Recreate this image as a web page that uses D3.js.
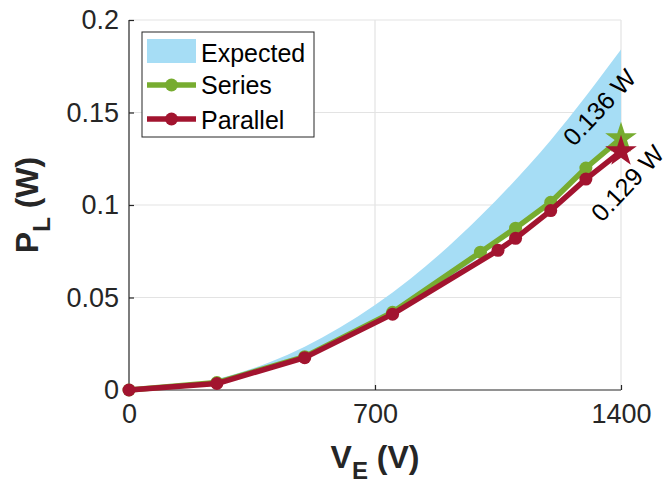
<!DOCTYPE html>
<html>
<head>
<meta charset="utf-8">
<script src="https://cdn.jsdelivr.net/npm/d3@7"></script>
<style>
  body { margin: 0; background: #fff; }
  svg text { font-family: "Liberation Sans", Arial, Helvetica, sans-serif; }
</style>
</head>
<body>
<div id="chart"></div>
<script>
// values
const expectedV = [0, 200, 400, 600, 800, 1000, 1200, 1400];
const expectedLow = [0, 0.0028, 0.0115, 0.026, 0.046, 0.0725, 0.1015, 0.138];
const expectedHigh = [0, 0.0038, 0.015, 0.0338, 0.060, 0.094, 0.135, 0.184];

const seriesV = [0, 250, 500, 750, 1000, 1100, 1200, 1300, 1400];
const seriesP = [0, 0.004, 0.018, 0.042, 0.0745, 0.0875, 0.1015, 0.12, 0.136];

const parallelV = [0, 250, 500, 750, 1050, 1100, 1200, 1300, 1400];
const parallelP = [0, 0.0035, 0.0175, 0.041, 0.0755, 0.082, 0.097, 0.114, 0.129];

const xTicks = [0, 700, 1400];
const yTicks = [0, 0.05, 0.1, 0.15, 0.2];
const yTickLabels = ["0", "0.05", "0.1", "0.15", "0.2"];

const green = "#77ac30", red = "#a2142f", blue = "#a6ddf5";

let svg = d3.select("#chart").append("svg")
    .attr("width", 671)
    .attr("height", 486);

let margin = {top: 20, right: 50, bottom: 96, left: 129};
let width = 671 - margin.left - margin.right;
let height = 486 - margin.top - margin.bottom;

let x = d3.scaleLinear().domain([0, 1400]).range([0, width]);
let y = d3.scaleLinear().domain([0, 0.2]).range([height, 0]);

let g = svg.append("g")
    .attr("transform", "translate(" + margin.left + "," + margin.top + ")");

// grid
g.append("g").selectAll("line").data(xTicks.slice(1)).enter().append("line")
    .attr("x1", d => x(d)).attr("x2", d => x(d))
    .attr("y1", 0).attr("y2", height)
    .attr("stroke", "#e3e3e3").attr("stroke-width", 1.2);
g.append("g").selectAll("line").data(yTicks.slice(1)).enter().append("line")
    .attr("x1", 0).attr("x2", width)
    .attr("y1", d => y(d)).attr("y2", d => y(d))
    .attr("stroke", "#e3e3e3").attr("stroke-width", 1.2);

// expected band
let band = expectedV.map((v, i) => ({v: v, lo: expectedLow[i], hi: expectedHigh[i]}));
g.append("path")
    .datum(band)
    .attr("fill", blue)
    .attr("d", d3.area().curve(d3.curveMonotoneX)
        .x(d => x(d.v)).y0(d => y(d.lo)).y1(d => y(d.hi)));

// axes
let xAxis = g.append("g")
    .attr("transform", "translate(0," + height + ")")
    .call(d3.axisBottom(x).tickValues(xTicks).tickSize(-5).tickPadding(14)
        .tickFormat(d3.format("d")));
let yAxis = g.append("g")
    .call(d3.axisLeft(y).tickValues(yTicks).tickSize(-5).tickPadding(10)
        .tickFormat((d, i) => yTickLabels[i]));
[xAxis, yAxis].forEach(a => {
    a.select(".domain").attr("stroke", "#262626").attr("stroke-width", 1.2);
    a.selectAll(".tick line").attr("stroke", "#262626").attr("stroke-width", 1.2);
    a.selectAll(".tick text").attr("fill", "#262626").style("font-size", "27px");
});
xAxis.select(".domain").attr("d", "M0,0H" + width);
yAxis.select(".domain").attr("d", "M0," + height + "V0");

// lines with markers
function drawSeries(vs, ps, color) {
    let pts = vs.map((v, i) => ({v: v, p: ps[i]}));
    g.append("path")
        .datum(pts)
        .attr("fill", "none")
        .attr("stroke", color)
        .attr("stroke-width", 5.5)
        .attr("stroke-linejoin", "round")
        .attr("d", d3.line().x(d => x(d.v)).y(d => y(d.p)));
    g.append("g").selectAll("circle")
        .data(pts.slice(0, -1)).enter().append("circle")
        .attr("cx", d => x(d.v)).attr("cy", d => y(d.p))
        .attr("r", 6.5).attr("fill", color);
    return pts[pts.length - 1];
}
let sEnd = drawSeries(seriesV, seriesP, green);
let pEnd = drawSeries(parallelV, parallelP, red);

let star = d3.symbol().type(d3.symbolStar).size(310);
g.append("path").attr("d", star)
    .attr("transform", "translate(" + x(sEnd.v) + "," + y(sEnd.p) + ")")
    .attr("fill", green);
g.append("path").attr("d", star)
    .attr("transform", "translate(" + x(pEnd.v) + "," + y(pEnd.p) + ")")
    .attr("fill", red);

// annotations
g.append("text")
    .attr("transform", "translate(" + (x(sEnd.v) - 47) + "," + (y(sEnd.p) + 9) + ") rotate(-47)")
    .style("font-size", "25px").attr("fill", "#000")
    .text(sEnd.p.toFixed(3) + " W");
g.append("text")
    .attr("transform", "translate(" + (x(pEnd.v) - 19) + "," + (y(pEnd.p) + 72) + ") rotate(-47)")
    .style("font-size", "25px").attr("fill", "#000")
    .text(pEnd.p.toFixed(3) + " W");

// axis labels
let xl = svg.append("text")
    .attr("x", margin.left + width / 2)
    .attr("y", 468)
    .attr("text-anchor", "middle")
    .attr("fill", "#262626")
    .style("font-size", "32px").style("font-weight", "bold");
xl.append("tspan").text("V");
xl.append("tspan").attr("dy", 11).style("font-size", "24px").text("E");
xl.append("tspan").attr("dy", -11).text(" (V)");

let yl = svg.append("text")
    .attr("transform", "translate(38," + (margin.top + height / 2) + ") rotate(-90)")
    .attr("text-anchor", "middle")
    .attr("fill", "#262626")
    .style("font-size", "32px").style("font-weight", "bold");
yl.append("tspan").text("P");
yl.append("tspan").attr("dy", 12).style("font-size", "24px").text("L");
yl.append("tspan").attr("dy", -12).text(" (W)");

// legend
let lg = svg.append("g").attr("transform", "translate(142,32)");
lg.append("rect")
    .attr("width", 172).attr("height", 105)
    .attr("fill", "#fff").attr("stroke", "#262626").attr("stroke-width", 1);
lg.append("rect")
    .attr("x", 5).attr("y", 7).attr("width", 49).attr("height", 24)
    .attr("fill", blue);
[["Series", green, 53], ["Parallel", red, 87]].forEach(([name, color, yy]) => {
    lg.append("line").attr("x1", 5).attr("x2", 54).attr("y1", yy).attr("y2", yy)
        .attr("stroke", color).attr("stroke-width", 5.5);
    lg.append("circle").attr("cx", 29.5).attr("cy", yy).attr("r", 6.5).attr("fill", color);
});
[["Expected", 30], ["Series", 62], ["Parallel", 97]].forEach(([t, yy]) => {
    lg.append("text").attr("x", 59).attr("y", yy)
        .style("font-size", "25px").attr("fill", "#000").text(t);
});
</script>
</body>
</html>
